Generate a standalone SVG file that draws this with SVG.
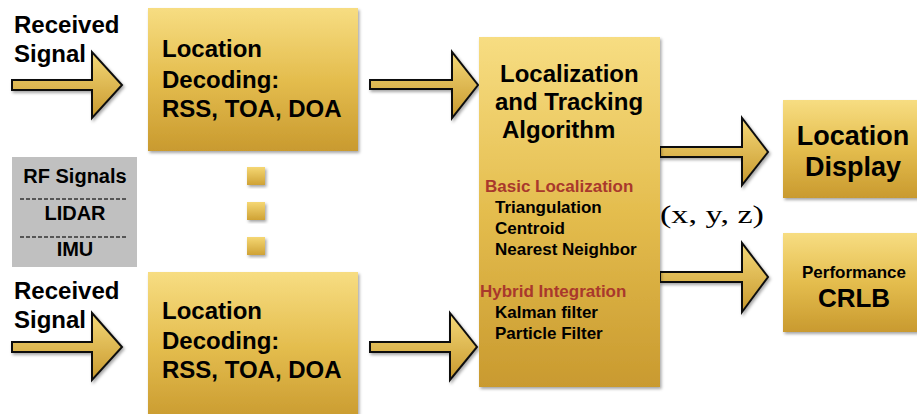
<svg xmlns="http://www.w3.org/2000/svg" width="917" height="414" viewBox="0 0 917 414">
<defs>
<linearGradient id="gold" x1="0" y1="0" x2="0" y2="1">
<stop offset="0" stop-color="#f7dd82"/>
<stop offset="0.5" stop-color="#e4bd4e"/>
<stop offset="1" stop-color="#c99a2f"/>
</linearGradient>
<linearGradient id="goldA" x1="0" y1="0" x2="0" y2="1">
<stop offset="0" stop-color="#f4d878"/>
<stop offset="1" stop-color="#c8992e"/>
</linearGradient>
<linearGradient id="dot" x1="0" y1="0" x2="0" y2="1">
<stop offset="0" stop-color="#f5d774"/>
<stop offset="1" stop-color="#cfa235"/>
</linearGradient>
<filter id="sh" x="-10%" y="-10%" width="130%" height="130%">
<feDropShadow dx="1.5" dy="2" stdDeviation="1.5" flood-color="#000" flood-opacity="0.35"/>
</filter>
</defs>
<style>
.box{fill:url(#gold);filter:url(#sh);}
.dot{fill:url(#dot);filter:url(#sh);}
.arr{fill:url(#goldA);stroke:#111;stroke-width:2;stroke-linejoin:miter;filter:url(#sh);}
.t{font-family:"Liberation Sans",Arial,sans-serif;font-weight:bold;fill:#000;}
.big{font-size:24px;}
.sm{font-size:17px;}
.red{fill:#a9382c;}
.gl{font-size:20px;}
.dash{stroke:#333;stroke-width:1.5;stroke-dasharray:4 2;}
</style>

<g id="connectors">
<path class="arr" d="M12,80 H92 V52 L122,85 L92,118 V90 H12 Z"/>
<path class="arr" d="M12,342 H92 V313 L122,347 L92,380 V352 H12 Z"/>
<path class="arr" d="M370,80 H452 V52 L478,85 L452,118 V89 H370 Z"/>
<path class="arr" d="M370,342 H450 V313 L477,347 L450,380 V352 H370 Z"/>
<path class="arr" d="M660,147 H742 V118 L768,152 L742,185 V157 H660 Z"/>
<path class="arr" d="M660,272 H742 V243 L768,277 L742,312 V282 H660 Z"/>
</g>

<g id="input-top">
<text class="t big" x="14" y="33">Received</text>
<text class="t big" x="14" y="62">Signal</text>
</g>
<g id="input-bottom">
<text class="t big" x="14" y="299">Received</text>
<text class="t big" x="14" y="328">Signal</text>
</g>

<g id="decoding-top">
<rect class="box" x="148" y="8" width="210" height="143"/>
<text class="t big" x="162" y="57">Location</text>
<text class="t big" x="162" y="88">Decoding:</text>
<text class="t big" x="162" y="117">RSS, TOA, DOA</text>
</g>

<g id="decoding-bottom">
<rect class="box" x="148" y="272" width="210" height="150"/>
<text class="t big" x="162" y="319">Location</text>
<text class="t big" x="162" y="349">Decoding:</text>
<text class="t big" x="162" y="378">RSS, TOA, DOA</text>
</g>

<g id="sensors">
<rect x="12" y="157" width="125" height="110" fill="#c0c0c0"/>
<text class="t gl" x="75" y="183" text-anchor="middle">RF Signals</text>
<line class="dash" x1="20" y1="199" x2="128" y2="199"/>
<text class="t gl" x="75" y="220" text-anchor="middle">LIDAR</text>
<line class="dash" x1="20" y1="237" x2="128" y2="237"/>
<text class="t gl" x="75" y="256" text-anchor="middle">IMU</text>
</g>

<g id="ellipsis">
<rect class="dot" x="247" y="167" width="18" height="18"/>
<rect class="dot" x="247" y="202" width="18" height="18"/>
<rect class="dot" x="247" y="237" width="18" height="18"/>
</g>

<g id="algorithm">
<rect class="box" x="479" y="37" width="181" height="350"/>
<text class="t big" x="500" y="82">Localization</text>
<text class="t big" x="495" y="110">and Tracking</text>
<text class="t big" x="502" y="138">Algorithm</text>
<text class="t sm red" x="485" y="192">Basic Localization</text>
<text class="t sm" x="495" y="213">Triangulation</text>
<text class="t sm" x="495" y="234">Centroid</text>
<text class="t sm" x="495" y="255">Nearest Neighbor</text>
<text class="t sm red" x="480" y="297">Hybrid Integration</text>
<text class="t sm" x="495" y="318">Kalman filter</text>
<text class="t sm" x="495" y="339">Particle Filter</text>
</g>

<g id="coords">
<text x="660" y="223" font-family="'Liberation Serif','DejaVu Serif',serif" font-size="26" textLength="104" lengthAdjust="spacingAndGlyphs">(x, y, z)</text>
</g>

<g id="display">
<rect class="box" x="783" y="100" width="140" height="98"/>
<text class="t" font-size="27" x="853" y="145" text-anchor="middle">Location</text>
<text class="t" font-size="27" x="853" y="176" text-anchor="middle">Display</text>
</g>

<g id="performance">
<rect class="box" x="783" y="233" width="140" height="99"/>
<text class="t" font-size="17" x="854" y="278" text-anchor="middle">Performance</text>
<text class="t" font-size="26" x="854" y="307" text-anchor="middle">CRLB</text>
</g>
</svg>
